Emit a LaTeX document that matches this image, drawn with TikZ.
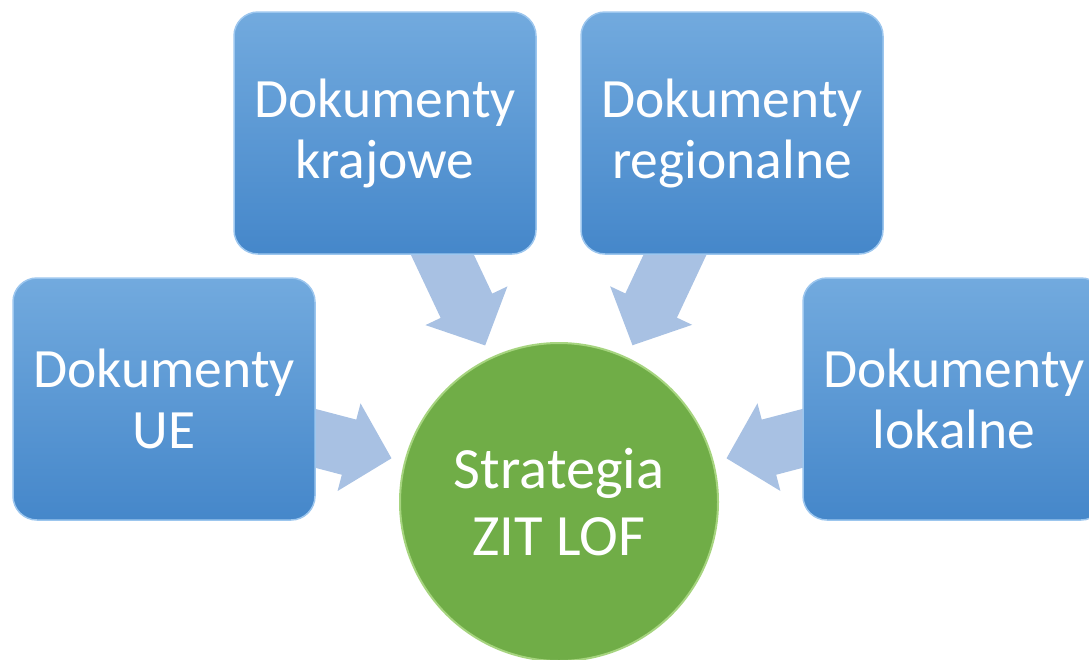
\documentclass[tikz,border=0pt]{standalone}
\usepackage{fontspec}
\setmainfont{Carlito}
\usetikzlibrary{arrows.meta,backgrounds}
\definecolor{boxtop}{HTML}{72AADE}
\definecolor{boxbot}{HTML}{4587CA}
\definecolor{boxedge}{HTML}{9CC6EE}
\definecolor{hubgreen}{HTML}{70AD47}
\definecolor{hubedge}{HTML}{A6D47F}
\definecolor{arrowfill}{HTML}{A8C1E3}
\begin{document}
\begin{tikzpicture}[x=1pt,y=-1pt,
  docbox/.style={rectangle, rounded corners=24pt, minimum width=302pt, minimum height=242pt,
    inner sep=0pt, top color=boxtop, bottom color=boxbot, draw=boxedge, line width=1.5pt,
    text=white, align=center, font=\fontsize{55.5}{61}\selectfont},
  hub/.style={circle, minimum size=318pt, inner sep=0pt, fill=hubgreen, draw=hubedge,
    line width=2pt, text=white, align=center, font=\fontsize{58.5}{67}\selectfont},
  flow/.style={color=arrowfill, line width=57pt, -{Triangle[length=44pt,width=88pt]},
    shorten <=-40pt, shorten >=13pt}]
\clip (0,0) rectangle (1089,659);
\useasboundingbox (0,0) rectangle (1089,659);
\node[hub] (hub) at (559,502) {Strategia\\ZIT LOF};
\node[docbox] (ue) at (164,399) {Dokumenty\\UE};
\node[docbox] (kraj) at (385,133) {Dokumenty\\krajowe};
\node[docbox] (reg) at (732,133) {Dokumenty\\regionalne};
\node[docbox] (lok) at (954,399) {Dokumenty\\lokalne};
\begin{scope}[on background layer]
  \draw[flow] (ue) -- (hub);
  \draw[flow] (kraj) -- (hub);
  \draw[flow] (reg) -- (hub);
  \draw[flow] (lok) -- (hub);
\end{scope}
\end{tikzpicture}
\end{document}
